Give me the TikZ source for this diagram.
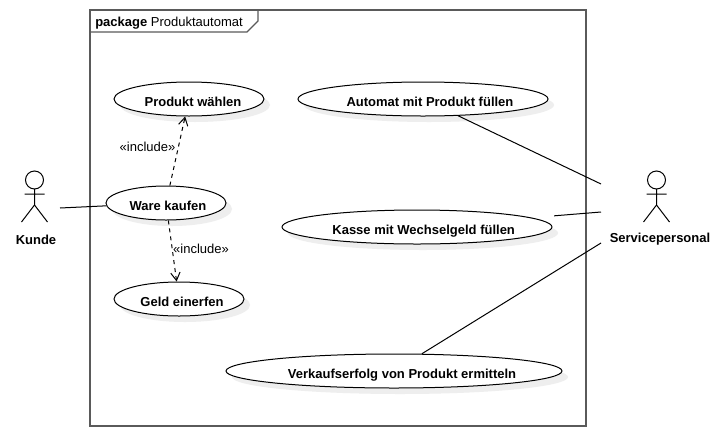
\documentclass[tikz,border=0pt]{standalone}
\usepackage{fontspec}
\setmainfont{Liberation Sans}
\usetikzlibrary{arrows.meta,shapes.geometric,shadows}
\definecolor{framegray}{RGB}{90, 90, 90}
\definecolor{shadowgray}{RGB}{238, 238, 238}
\tikzset{
	usecase/.style={ellipse,draw=black,fill=white,line width=0.75pt,inner xsep=-30pt,inner ysep=0pt,
		minimum height=25.5pt,font=\fontsize{9.75pt}{11pt}\selectfont\bfseries,
		text height=11pt,text depth=0pt,
		drop shadow={shadow xshift=4.5pt,shadow yshift=-4.5pt,fill=shadowgray,opacity=1}},
	actorname/.style={font=\fontsize{9.75pt}{11pt}\selectfont\bfseries},
	plain/.style={font=\fontsize{9.75pt}{11pt}\selectfont},
	assoc/.style={draw=black,line width=0.75pt},
	incl/.style={draw=black,line width=0.75pt,dashed,dash pattern=on 3pt off 3pt,
		-{Straight Barb[length=6pt,width=7pt,line width=0.75pt]}},
	actor/.pic={
		\draw[line width=0.75pt] (0,-25) circle (9);
		\draw[line width=0.75pt] (0,-16) -- (0,0) (-10,-11) -- (10,-11)
			(-13,17) -- (0,0) -- (13,17);
	},
}
\begin{document}
\begin{tikzpicture}[x=0.75pt,y=-0.75pt]
	\useasboundingbox (0,0) rectangle (721,436);
	\fill[white] (0,0) rectangle (721,436);
	% package frame
	\draw[framegray,line width=1.3pt] (90,10) rectangle (586,426);
	\draw[framegray,line width=1pt] (90,32) -- (247,32) -- (258,21) -- (258,10);
	\node[plain,anchor=west,inner sep=0pt] (paket) at (95,23) {\textbf{package} Produktautomat};
	% use cases
	\node[usecase,minimum width=112.5pt] (waehlen) at (189,99) {\hspace*{6pt}Produkt wählen};
	\node[usecase,minimum width=90pt] (kaufen) at (166,203) {\hspace*{3pt}Ware kaufen};
	\node[usecase,minimum width=97.5pt] (einwerfen) at (179,299) {\hspace*{4.5pt}Geld einerfen};
	\node[usecase,minimum width=187.5pt] (automat) at (423,99) {\hspace*{10.5pt}Automat mit Produkt füllen};
	\node[usecase,minimum width=202.5pt] (kasse) at (417,227) {\hspace*{10pt}Kasse mit Wechselgeld füllen};
	\node[usecase,minimum width=252pt] (verkauf) at (394,371) {\hspace*{12pt}Verkaufserfolg von Produkt ermitteln};
	% actors
	\pic at (34.5,205) {actor};
	\pic at (656.5,205) {actor};
	\node[actorname] (kunde) at (36,240) {Kunde};
	\node[actorname] (service) at (660,239) {Servicepersonal};
	% free ends of the associations
	\coordinate (kundeEnd) at (60,208);
	\coordinate (serviceA) at (601,184);
	\coordinate (serviceB) at (601,212);
	\coordinate (serviceC) at (601,243);
	\draw[assoc] (kundeEnd) -- (kaufen);
	\draw[assoc] (automat) -- (serviceA);
	\draw[assoc,shorten <=17pt] (kasse) -- (serviceB);
	\draw[assoc] (verkauf) -- (serviceC);
	% include
	\draw[incl] (kaufen) -- (waehlen);
	\draw[incl] (kaufen) -- (einwerfen);
	\node[plain] (inclA) at (147.5,147) {«include»};
	\node[plain] (inclB) at (201,249) {«include»};
\end{tikzpicture}
\end{document}
